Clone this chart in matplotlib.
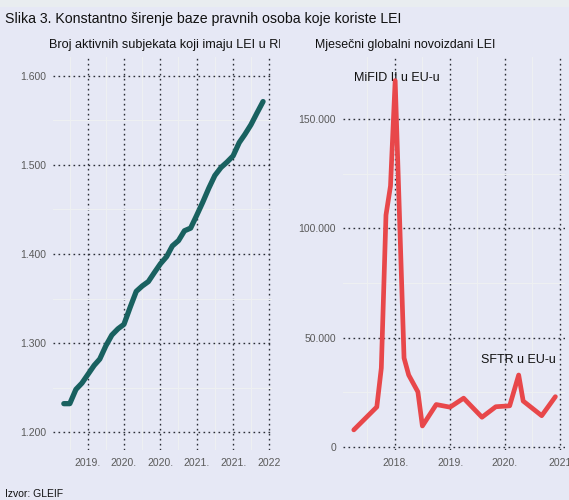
import numpy as np
import pandas as pd
import matplotlib
matplotlib.use("Agg")
import matplotlib.pyplot as plt
import matplotlib.dates as mdates
from matplotlib.patches import Rectangle
from matplotlib.transforms import Bbox

plt.rcParams['font.family'] = ['Liberation Sans', 'DejaVu Sans']

# Active LEI holders in Croatia (monthly, end of month)
rh_dates = pd.date_range('2018-08-31', periods=34, freq='ME')
rh_counts = [1232, 1232, 1248, 1255, 1265, 1275, 1282, 1297, 1309, 1316,
             1321, 1340, 1358, 1364, 1369, 1379, 1389, 1397, 1409, 1415,
             1426, 1429, 1443, 1458, 1474, 1488, 1497, 1503, 1510, 1525,
             1534, 1545, 1558, 1571]
rh_ticks = pd.date_range('2018-12-31', periods=6, freq='6ME')
rh_ticklabels = ['2019.', '2020.', '2020.', '2021.', '2021.', '2022']
rh_yticks = [1200, 1300, 1400, 1500, 1600]

# Newly issued LEIs worldwide
gl_dates = pd.to_datetime(['2017-04-01', '2017-09-01', '2017-10-01', '2017-11-01',
                           '2017-12-01', '2018-01-01', '2018-03-01', '2018-04-01',
                           '2018-06-01', '2018-07-01', '2018-10-01', '2019-01-01',
                           '2019-04-01', '2019-08-01', '2019-11-01', '2020-02-01',
                           '2020-04-01', '2020-05-01', '2020-09-01', '2020-12-01'])
gl_new = [7800, 18300, 36100, 106100, 119400, 167600, 40700, 32900,
          25200, 9600, 19400, 18200, 22300, 13600, 18400, 18800,
          32900, 21000, 14300, 23000]
gl_ticks = pd.to_datetime(['2018-01-01', '2019-01-01', '2020-01-01', '2021-01-01'])
gl_ticklabels = ['2018.', '2019.', '2020.', '2021']
gl_yticks = [0, 50000, 100000, 150000]

bg = '#e6e8f5'
teal = '#196160'
red = '#e8474a'
grid_kw = dict(color='#2a2d36', linestyle=(0, (1.2, 2.4)), linewidth=1.0)
minor_kw = dict(color='#eef0f2', linestyle='-', linewidth=0.8)


def fmt_thousands(v):
    return f"{int(round(v)):,}".replace(',', '.')


def style_axis(ax):
    ax.set_facecolor(bg)
    for s in ax.spines.values():
        s.set_visible(False)
    ax.tick_params(axis='both', length=0, labelsize=7.5, labelcolor='#5a5a5a')
    ax.tick_params(axis='x', pad=6)
    ax.tick_params(axis='y', pad=5)
    ax.grid(True, which='minor', **minor_kw)
    ax.grid(True, which='major', **grid_kw)
    ax.set_axisbelow(True)


fig = plt.figure(figsize=(5.69, 5.0), dpi=100)
fig.patch.set_facecolor(bg)
fig.patches.append(Rectangle((0, 0.986), 1, 0.014, transform=fig.transFigure,
                             facecolor='#e9edf0', edgecolor='none', zorder=-1))

fig.text(0.009, 0.962, 'Slika 3. Konstantno širenje baze pravnih osoba koje koriste LEI',
         fontsize=10.2, color='#111111', ha='left', va='center')
fig.text(0.009, 0.012, 'Izvor: GLEIF', fontsize=7.5, color='#111111', ha='left', va='center')

# --- left panel
ax1 = fig.add_axes([0.093, 0.10, 0.385, 0.786])
style_axis(ax1)
ax1.plot(rh_dates, rh_counts, color=teal, linewidth=3.8,
         solid_capstyle='round', solid_joinstyle='round', zorder=3)
ax1.set_xticks(rh_ticks)
ax1.set_xticklabels(rh_ticklabels)
minor1 = rh_ticks - pd.DateOffset(months=3)
ax1.set_xticks(list(minor1) + [rh_ticks[-1] + pd.DateOffset(months=3)], minor=True)
ax1.set_yticks(rh_yticks)
ax1.set_yticklabels([fmt_thousands(v) for v in rh_yticks])
ax1.set_yticks([1250, 1350, 1450, 1550], minor=True)
ax1.tick_params(which='minor', length=0, labelbottom=False, labelleft=False)
ax1.set_xlim(rh_dates[0] - pd.Timedelta(days=55), rh_ticks[-1] + pd.Timedelta(days=15))
ax1.set_ylim(1180, 1621)

# subtitle is cut at the panel's right edge
t1 = fig.text(0.086, 0.91, 'Broj aktivnih subjekata koji imaju LEI u RH',
              fontsize=9.1, color='#111111', ha='left', va='center')
t1.set_clip_box(Bbox.from_extents(0, 0, 280, 500))
t1.set_clip_on(True)

# --- right panel
ax2 = fig.add_axes([0.603, 0.10, 0.39, 0.786])
style_axis(ax2)
ax2.plot(gl_dates, gl_new, color=red, linewidth=3.4,
         solid_capstyle='round', solid_joinstyle='round', zorder=3)
ax2.set_xticks(gl_ticks)
ax2.set_xticklabels(gl_ticklabels)
ax2.set_xticks(list(gl_ticks[:-1] - pd.DateOffset(months=6)) +
               [gl_ticks[-1] - pd.DateOffset(months=6)], minor=True)
ax2.set_yticks(gl_yticks)
ax2.set_yticklabels([fmt_thousands(v) for v in gl_yticks])
ax2.set_yticks([25000, 75000, 125000], minor=True)
ax2.tick_params(which='minor', length=0, labelbottom=False, labelleft=False)
ax2.set_xlim(pd.Timestamp('2017-01-20'), pd.Timestamp('2021-02-03'))
ax2.set_ylim(-1400, 178400)

ax2.text(pd.Timestamp('2018-01-10'), 166000, 'MiFID II u EU-u', fontsize=9,
         color='#111111', ha='center', va='bottom', zorder=1)
ax2.text(pd.Timestamp('2020-12-05'), 40000, 'SFTR u EU-u', fontsize=9,
         color='#111111', ha='right', va='center', zorder=1)

fig.text(0.553, 0.91, 'Mjesečni globalni novoizdani LEI', fontsize=8.95,
         color='#111111', ha='left', va='center')

fig.savefig('out.png', dpi=100, facecolor=fig.get_facecolor())
